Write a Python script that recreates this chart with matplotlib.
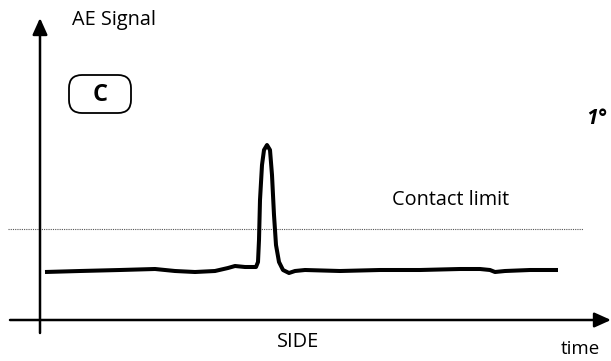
import matplotlib.pyplot as plt
from matplotlib.patches import FancyBboxPatch

plt.rcParams['font.family'] = ['Open Sans', 'DejaVu Sans']

# signal trace (time, amplitude) relative to the axis origin
time = [5, 40, 80, 115, 135, 155, 175, 188, 195, 205, 216, 218, 219, 220, 222, 224, 227,
        230, 232, 234, 236, 239, 243, 249, 255, 265, 300, 340, 380, 420, 440, 450, 455,
        465, 490, 518]
signal = [48, 49, 50, 51, 49, 48, 49, 52, 54, 53, 53, 58, 80, 120, 155, 170, 175,
          170, 145, 105, 75, 58, 50, 47, 49, 50, 49, 50, 50, 51, 51, 50, 48,
          49, 50, 50]
contact_limit = 91

fig = plt.figure(figsize=(6.11, 3.61), dpi=100)
ax = fig.add_axes([0, 0, 1, 1])
ax.set_xlim(-40, 571)
ax.set_ylim(-41, 320)
ax.axis('off')

# axes drawn as arrows
ax.annotate('', xy=(0, 302), xytext=(0, -13),
            arrowprops=dict(arrowstyle='-|>,head_length=1.0,head_width=0.45',
                            color='black', lw=1.8, shrinkA=0, shrinkB=0))
ax.annotate('', xy=(571, 0), xytext=(-30, 0),
            arrowprops=dict(arrowstyle='-|>,head_length=1.0,head_width=0.45',
                            color='black', lw=1.8, shrinkA=0, shrinkB=0))

ax.plot([-32, 543], [contact_limit, contact_limit], color='#555555', lw=0.8,
        ls=(0, (1, 1)))
ax.plot(time, signal, color='black', lw=2.9, solid_joinstyle='round',
        solid_capstyle='butt')

fs = 14.3
ax.text(32, 300, 'AE Signal', fontsize=fs, ha='left', va='center')
ax.text(352, 120, 'Contact limit', fontsize=fs, ha='left', va='center')
ax.text(258, -22, 'SIDE', fontsize=fs, ha='center', va='center')
ax.text(540, -34, 'time', fontsize=13.5, ha='center', va='baseline')
ax.text(546, 202, '1°', fontsize=15, fontweight='bold', style='italic',
        ha='left', va='center')

box = FancyBboxPatch((29, 207), 62, 38, boxstyle='round,pad=0,rounding_size=13',
                     fc='white', ec='black', lw=1.3)
ax.add_patch(box)
ax.text(60, 225, 'C', fontsize=17, fontweight='bold', ha='center', va='center')

fig.savefig('out.png', dpi=100)
